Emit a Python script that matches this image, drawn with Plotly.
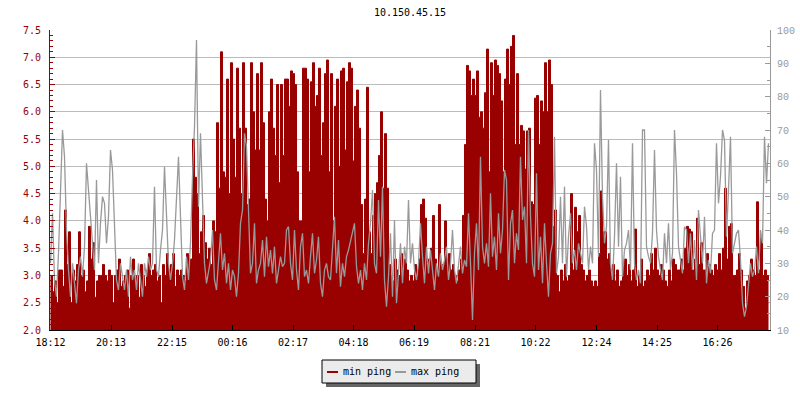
import pandas as pd
import plotly.graph_objects as go

title_text = "10.150.45.15"
start_time = "2024-01-01 18:12"
step_minutes = 4
tick_labels = ["18:12", "20:13", "22:15", "00:16", "02:17", "04:18",
               "06:19", "08:21", "10:22", "12:24", "14:25", "16:26"]
series_names = ["min ping", "max ping"]

min_ping = [
    3.0, 2.7, 2.9, 2.5, 3.1, 3.1, 2.8, 4.2, 3.2, 3.8,
    2.5, 3.1, 2.9, 3.2, 3.8, 3.0, 3.1, 2.7, 2.9, 3.9,
    3.3, 3.6, 2.6, 2.9, 3.0, 3.0, 3.2, 3.0, 2.9, 3.1,
    3.0, 2.5, 3.0, 3.1, 3.3, 2.8, 2.9, 3.0, 3.1, 2.4,
    3.0, 3.3, 2.9, 3.0, 2.6, 3.2, 3.0, 2.8, 3.1, 3.4,
    3.0, 3.1, 3.2, 2.9, 3.0, 2.5, 3.2, 3.0, 3.4, 3.1,
    3.2, 3.4, 2.8, 3.1, 3.0, 3.1, 3.0, 2.9, 3.4, 3.2,
    3.3, 5.5, 4.8, 4.5, 3.4, 3.8, 4.1, 3.6, 3.3, 3.5,
    3.2, 4.0, 3.8, 5.8, 4.6, 7.1, 4.9, 4.8, 6.6, 4.5,
    6.9, 5.5, 4.8, 6.8, 5.7, 4.5, 6.9, 5.7, 4.3, 4.4,
    6.9, 6.0, 5.3, 6.7, 5.3, 6.9, 5.8, 4.4, 4.0, 6.0,
    6.6, 5.7, 5.2, 6.5, 4.7, 6.5, 5.2, 6.6, 6.6, 6.1,
    6.75, 6.7, 6.5, 4.9, 4.0, 4.0, 6.8, 6.8, 6.6, 4.9,
    6.55, 6.9, 6.1, 6.3, 6.8, 5.2, 5.8, 6.7, 6.95, 4.9,
    6.7, 4.0, 6.1, 6.6, 5.0, 6.75, 6.8, 5.3, 6.55, 6.9,
    6.8, 5.1, 6.1, 6.4, 5.7, 4.3, 3.4, 4.4, 6.45, 3.8,
    3.4, 4.1, 4.5, 4.7, 5.2, 6.0, 4.6, 5.6, 4.6, 3.2,
    3.0, 2.9, 3.3, 3.1, 3.0, 3.4, 3.1, 3.3, 3.1, 2.9,
    3.0, 2.9, 3.2, 3.0, 3.3, 4.3, 4.4, 4.05, 3.2, 3.3,
    3.5, 4.1, 3.3, 3.1, 4.3, 3.2, 3.2, 4.0, 3.3, 3.4,
    3.1, 3.2, 3.0, 2.9, 3.1, 3.3, 4.1, 5.4, 6.85, 6.75,
    6.3, 6.6, 6.3, 6.75, 5.9, 6.0, 5.7, 6.35, 7.15, 4.9,
    6.9, 6.3, 6.95, 6.85, 6.7, 6.2, 4.9, 6.6, 7.15, 6.5,
    7.2, 7.4, 5.4, 6.7, 5.4, 5.75, 5.65, 4.95, 5.65, 5.7,
    4.35, 4.3, 6.25, 6.3, 5.4, 6.2, 6.0, 6.9, 6.0, 6.95,
    6.5, 3.9, 4.2, 3.0, 2.7, 3.1, 2.9, 3.2, 2.9, 3.0,
    4.5, 3.1, 4.25, 3.8, 4.1, 3.2, 3.1, 2.9, 3.0, 3.1,
    2.9, 2.8, 2.9, 2.8, 3.4, 4.55, 3.8, 3.8, 3.3, 3.4,
    3.1, 3.2, 2.9, 3.1, 2.8, 2.9, 3.2, 3.3, 3.0, 3.2,
    2.9, 3.1, 3.85, 2.8, 3.0, 3.3, 2.8, 2.9, 3.1, 3.0,
    3.4, 3.1, 3.5, 3.1, 3.0, 3.2, 3.1, 2.9, 2.8, 3.1,
    2.9, 3.3, 3.2, 3.1, 3.1, 3.3, 3.1, 3.5, 3.9, 3.85,
    3.8, 3.1, 3.3, 4.05, 3.2, 3.6, 3.1, 3.1, 3.4, 3.2,
    3.1, 3.0, 3.2, 3.1, 3.4, 3.1, 3.5, 4.6, 3.3, 3.9,
    3.95, 3.0, 3.0, 3.1, 3.4, 3.1, 2.8, 2.4, 2.9, 3.0,
    3.3, 3.1, 3.0, 4.35, 3.1, 3.7, 3.0, 3.1, 3.0, 2.9,
]

max_ping = [
    30, 45, 25, 20, 33, 50, 70, 62, 40, 28,
    20, 30, 24, 18, 28, 32, 26, 35, 60, 52,
    45, 38, 28, 55, 30, 42, 50, 48, 36, 44,
    64, 58, 41, 25, 22, 30, 26, 22, 28, 20,
    32, 25, 28, 22, 30, 24, 20, 30, 26, 32,
    28, 30, 53, 28, 26, 34, 40, 59, 44, 30,
    25, 30, 37, 48, 62, 44, 26, 22, 32, 25,
    36, 56, 71, 97, 47, 69, 45, 30, 24, 27,
    31, 40, 25, 22, 30, 39, 28, 33, 24, 30,
    22, 28, 26, 20, 27, 42, 46, 69, 65, 48,
    27, 30, 42, 24, 28, 30, 37, 26, 38, 29,
    34, 27, 35, 24, 28, 32, 29, 30, 40, 41,
    30, 25, 40, 28, 22, 35, 39, 26, 28, 24,
    32, 39, 27, 31, 38, 24, 20, 28, 30, 26,
    25, 33, 44, 27, 37, 23, 30, 26, 32, 34,
    37, 40, 42, 29, 24, 28, 22, 30, 25, 36,
    42, 52, 30, 27, 49, 32, 53, 25, 17, 26,
    39, 20, 43, 18, 28, 36, 24, 35, 30, 49,
    30, 36, 28, 25, 30, 42, 32, 24, 35, 27,
    34, 28, 22, 30, 26, 33, 28, 31, 35, 25,
    30, 40, 28, 24, 30, 35, 27, 31, 29, 45,
    30, 13, 33, 42, 28, 62, 35, 30, 36, 29,
    51, 32, 38, 28, 45, 33, 40, 58, 55, 25,
    42, 46, 30, 39, 34, 62, 43, 47, 30, 70,
    44, 30, 26, 57, 28, 38, 24, 42, 30, 20,
    33, 36, 68, 27, 32, 50, 30, 53, 26, 38,
    45, 30, 34, 28, 36, 33, 30, 47, 41, 28,
    35, 30, 66, 58, 32, 82, 50, 36, 41, 67,
    30, 25, 38, 60, 35, 56, 26, 34, 36, 40,
    28, 66, 30, 25, 28, 24, 70, 70, 35, 32,
    30, 39, 64, 40, 32, 28, 25, 39, 30, 42,
    28, 33, 70, 57, 35, 31, 27, 41, 40, 30,
    39, 28, 37, 25, 46, 38, 30, 44, 24, 31,
    27, 39, 40, 66, 48, 56, 70, 67, 38, 52,
    68, 33, 36, 39, 40, 31, 18, 14, 17, 24,
    30, 26, 28, 35, 27, 40, 36, 68, 54, 66,
]

RED = "#990000"
GREY = "#999999"
MONO = "DejaVu Sans Mono"

times = pd.date_range(start_time, periods=len(min_ping), freq=f"{step_minutes}min")
t0 = times[0]

# tick positions derived from the tick label clock times (rolling over midnight)
tickvals = []
day = t0.normalize()
prev = None
for lab in tick_labels:
    h, m = map(int, lab.split(":"))
    t = day + pd.Timedelta(hours=h, minutes=m)
    if prev is not None and t < prev:
        day = day + pd.Timedelta(days=1)
        t = t + pd.Timedelta(days=1)
    tickvals.append(t)
    prev = t

fig = go.Figure()
fig.add_trace(go.Scatter(
    x=times, y=min_ping, name=series_names[0], mode="lines",
    line=dict(color=RED, width=1, shape="hv"),
    fill="tozeroy", fillcolor=RED, yaxis="y"))
fig.add_trace(go.Scatter(
    x=times, y=max_ping, name=series_names[1], mode="lines",
    line=dict(color=GREY, width=1.3), yaxis="y2"))

L, R, T, B = 50, 30, 30, 70
W, H = 800, 400
pw, ph = W - L - R, H - T - B


def px_x(p):
    return (p - L) / pw


def px_y(p):
    return (H - B - p) / ph


# half-pixel shift (1 minute = 0.5 px) so vertical strokes land on whole pixels
half_px = pd.Timedelta(minutes=1)

fig.update_layout(
    width=W, height=H,
    margin=dict(l=L, r=R, t=T, b=B, pad=0, autoexpand=False),
    paper_bgcolor="white", plot_bgcolor="white",
    showlegend=False,
    title=dict(text=title_text, xref="paper", x=0.5, xanchor="center", y=1 - 12 / H,
               yanchor="middle", font=dict(family=MONO, size=10, color="black")),
    xaxis=dict(
        type="date", range=[t0 - half_px, t0 + pd.Timedelta(hours=24) - half_px],
        showgrid=False, zeroline=False,
        showline=True, linecolor="black", linewidth=1,
        ticks="inside", ticklen=5, tickcolor="black",
        tickvals=tickvals, ticktext=tick_labels,
        tickfont=dict(family=MONO, size=10, color="black"),
        ticklabelstandoff=3,
    ),
    yaxis=dict(
        range=[2, 7.5], tick0=2, dtick=0.5, tickformat=".1f",
        showgrid=True, gridcolor="#bbbbbb", gridwidth=1, zeroline=False,
        showline=True, linecolor=RED, linewidth=1,
        ticks="inside", ticklen=5, tickcolor=RED,
        tickfont=dict(family=MONO, size=10, color=RED),
        minor=dict(dtick=0.1, tick0=2, ticks="inside", ticklen=3, tickcolor=RED, showgrid=False),
        ticklabelstandoff=6,
    ),
    yaxis2=dict(
        overlaying="y", side="right", anchor="x",
        range=[10, 100], tick0=10, dtick=10,
        showgrid=False, zeroline=False,
        showline=True, linecolor=GREY, linewidth=1,
        ticks="inside", ticklen=5, tickcolor=GREY,
        tickfont=dict(family="Liberation Mono", size=10, color=GREY),
        minor=dict(dtick=5, tick0=10, ticks="inside", ticklen=3, tickcolor=GREY, showgrid=False),
        ticklabelstandoff=4,
    ),
)

# legend box drawn manually (jpgraph-like, with drop shadow)
shapes = [
    dict(type="rect", xref="paper", yref="paper",
         x0=px_x(326), x1=px_x(480), y0=px_y(387), y1=px_y(364),
         fillcolor="#666666", line=dict(width=0), layer="above"),
    dict(type="rect", xref="paper", yref="paper",
         x0=px_x(322), x1=px_x(476), y0=px_y(383), y1=px_y(360),
         fillcolor="#ebebeb", line=dict(color="black", width=1), layer="above"),
    dict(type="line", xref="paper", yref="paper",
         x0=px_x(327), x1=px_x(338), y0=px_y(372), y1=px_y(372),
         line=dict(color=RED, width=2), layer="above"),
    dict(type="line", xref="paper", yref="paper",
         x0=px_x(395), x1=px_x(406), y0=px_y(372), y1=px_y(372),
         line=dict(color=GREY, width=2), layer="above"),
]
annotations = [
    dict(text=series_names[0], xref="paper", yref="paper", x=px_x(341), y=px_y(371),
         xanchor="left", yanchor="middle", showarrow=False,
         font=dict(family=MONO, size=10, color="black")),
    dict(text=series_names[1], xref="paper", yref="paper", x=px_x(409), y=px_y(371),
         xanchor="left", yanchor="middle", showarrow=False,
         font=dict(family=MONO, size=10, color="black")),
]
fig.update_layout(shapes=shapes, annotations=annotations)

fig.write_html("out.html", config={"displayModeBar": False},
               post_script="document.body.style.margin='0';")
